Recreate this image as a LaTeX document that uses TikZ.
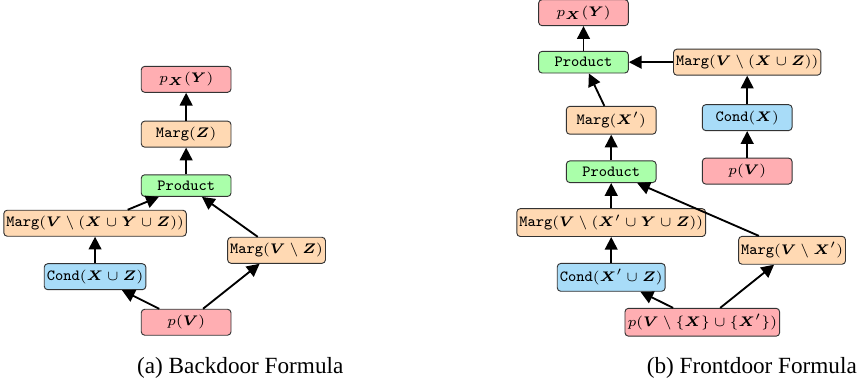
\documentclass[tikz,border=0pt]{standalone}
\usepackage{fontspec}
\usepackage{bm}
\usepackage{tikz}
\usetikzlibrary{arrows.meta}
\newfontfamily\capfont{Liberation Serif}
\definecolor{boxred}{HTML}{FFAEB2}
\definecolor{boxpeach}{HTML}{FFD9B3}
\definecolor{boxgreen}{HTML}{AAFFAA}
\definecolor{boxblue}{HTML}{A8DCF8}
\tikzset{
	opbox/.style={draw=black!80, line width=0.4pt, rounded corners=1.5pt, minimum width=1.36cm, inner xsep=1.1pt, inner ysep=2.6pt, font=\fontsize{6}{7.5}\selectfont},
	distbox/.style={opbox, fill=boxred},
	margbox/.style={opbox, fill=boxpeach},
	prodbox/.style={opbox, fill=boxgreen},
	condbox/.style={opbox, fill=boxblue},
	flow/.style={line width=0.8pt, -{Triangle[length=5.5pt,width=5.5pt]}},
	subcap/.style={font=\capfont, anchor=base}
}
\newcommand{\optt}[1]{{\fontsize{6.7}{7.5}\selectfont\ttfamily #1}}
\newcommand{\mg}{\optt{Marg}}
\newcommand{\cd}{\optt{Cond}}
\newcommand{\pd}{\optt{Product}}
\begin{document}
\begin{tikzpicture}
		\useasboundingbox (0, 0) rectangle (13.105, 5.802);
		%%%%% BACKDOOR %%%%%
		
		\node[distbox] (pxyA) at (2.82, 4.60) {$p_{\bm{X}}(\bm{Y})$};
		\node[margbox] (margZ) at (2.82, 3.77) {\mg$(\bm{Z})$};
		\node[prodbox] (prodA) at (2.82, 2.99) {\pd};
		\node[margbox] (margVXYZ) at (1.44, 2.42) {\mg$(\bm{V}\setminus(\bm{X}\cup\bm{Y}\cup\bm{Z}))$};
		\node[margbox] (margVZ) at (4.19, 2.01) {\mg$(\bm{V}\setminus\bm{Z})$};
		\node[condbox] (condXZ) at (1.44, 1.61) {\cd$(\bm{X}\cup\bm{Z})$};
		\node[distbox] (pVA) at (2.82, 0.92) {$p(\bm{V})$};
		
		\draw[flow] (pVA) -- (condXZ);
		\draw[flow] (pVA) -- (margVZ);
		\draw[flow] (condXZ) -- (margVXYZ);
		\draw[flow] (margVXYZ) -- (prodA);
		\draw[flow] (margVZ) -- (prodA);
		\draw[flow] (prodA) -- (margZ);
		\draw[flow] (margZ) -- (pxyA);
		
		\node[subcap] (capA) at (3.64, 0.15) {(a) Backdoor Formula};
		
		%%%%% FRONTDOOR %%%%%
		
		\node[distbox] (pxyB) at (8.84, 5.61) {$p_{\bm{X}}(\bm{Y})$};
		\node[prodbox] (prodB) at (8.84, 4.86) {\pd};
		\node[margbox] (margVXZ) at (11.32, 4.86) {\mg$(\bm{V}\setminus(\bm{X}\cup\bm{Z}))$};
		\node[margbox] (margXp) at (9.26, 3.98) {\mg$(\bm{X}')$};
		\node[condbox] (condX) at (11.32, 4.02) {\cd$(\bm{X})$};
		\node[prodbox] (prodC) at (9.26, 3.20) {\pd};
		\node[distbox] (pVB) at (11.32, 3.21) {$p(\bm{V})$};
		\node[margbox] (margVXpYZ) at (9.26, 2.43) {\mg$(\bm{V}\setminus(\bm{X}'\cup\bm{Y}\cup\bm{Z}))$};
		\node[margbox] (margVXp) at (12.00, 2.01) {\mg$(\bm{V}\setminus\bm{X}')$};
		\node[condbox] (condXpZ) at (9.26, 1.60) {\cd$(\bm{X}'\cup\bm{Z})$};
		\node[distbox] (pVXXp) at (10.64, 0.92) {$p(\bm{V}\setminus\{\bm{X}\}\cup\{\bm{X}'\})$};
		
		\draw[flow] (pVXXp) -- (condXpZ);
		\draw[flow] (pVXXp) -- (margVXp);
		\draw[flow] (condXpZ) -- (margVXpYZ);
		\draw[flow] (margVXpYZ) -- (prodC);
		\draw[flow] (margVXp) -- (prodC);
		\draw[flow] (prodC) -- (margXp);
		\draw[flow] (margXp) -- (prodB);
		\draw[flow] (pVB) -- (condX);
		\draw[flow] (condX) -- (margVXZ);
		\draw[flow] (margVXZ) -- (prodB);
		\draw[flow] (prodB) -- (pxyB);
		
		\node[subcap] (capB) at (11.39, 0.15) {(b) Frontdoor Formula};
		
		%%%%% END %%%%%
	\end{tikzpicture}
\end{document}
